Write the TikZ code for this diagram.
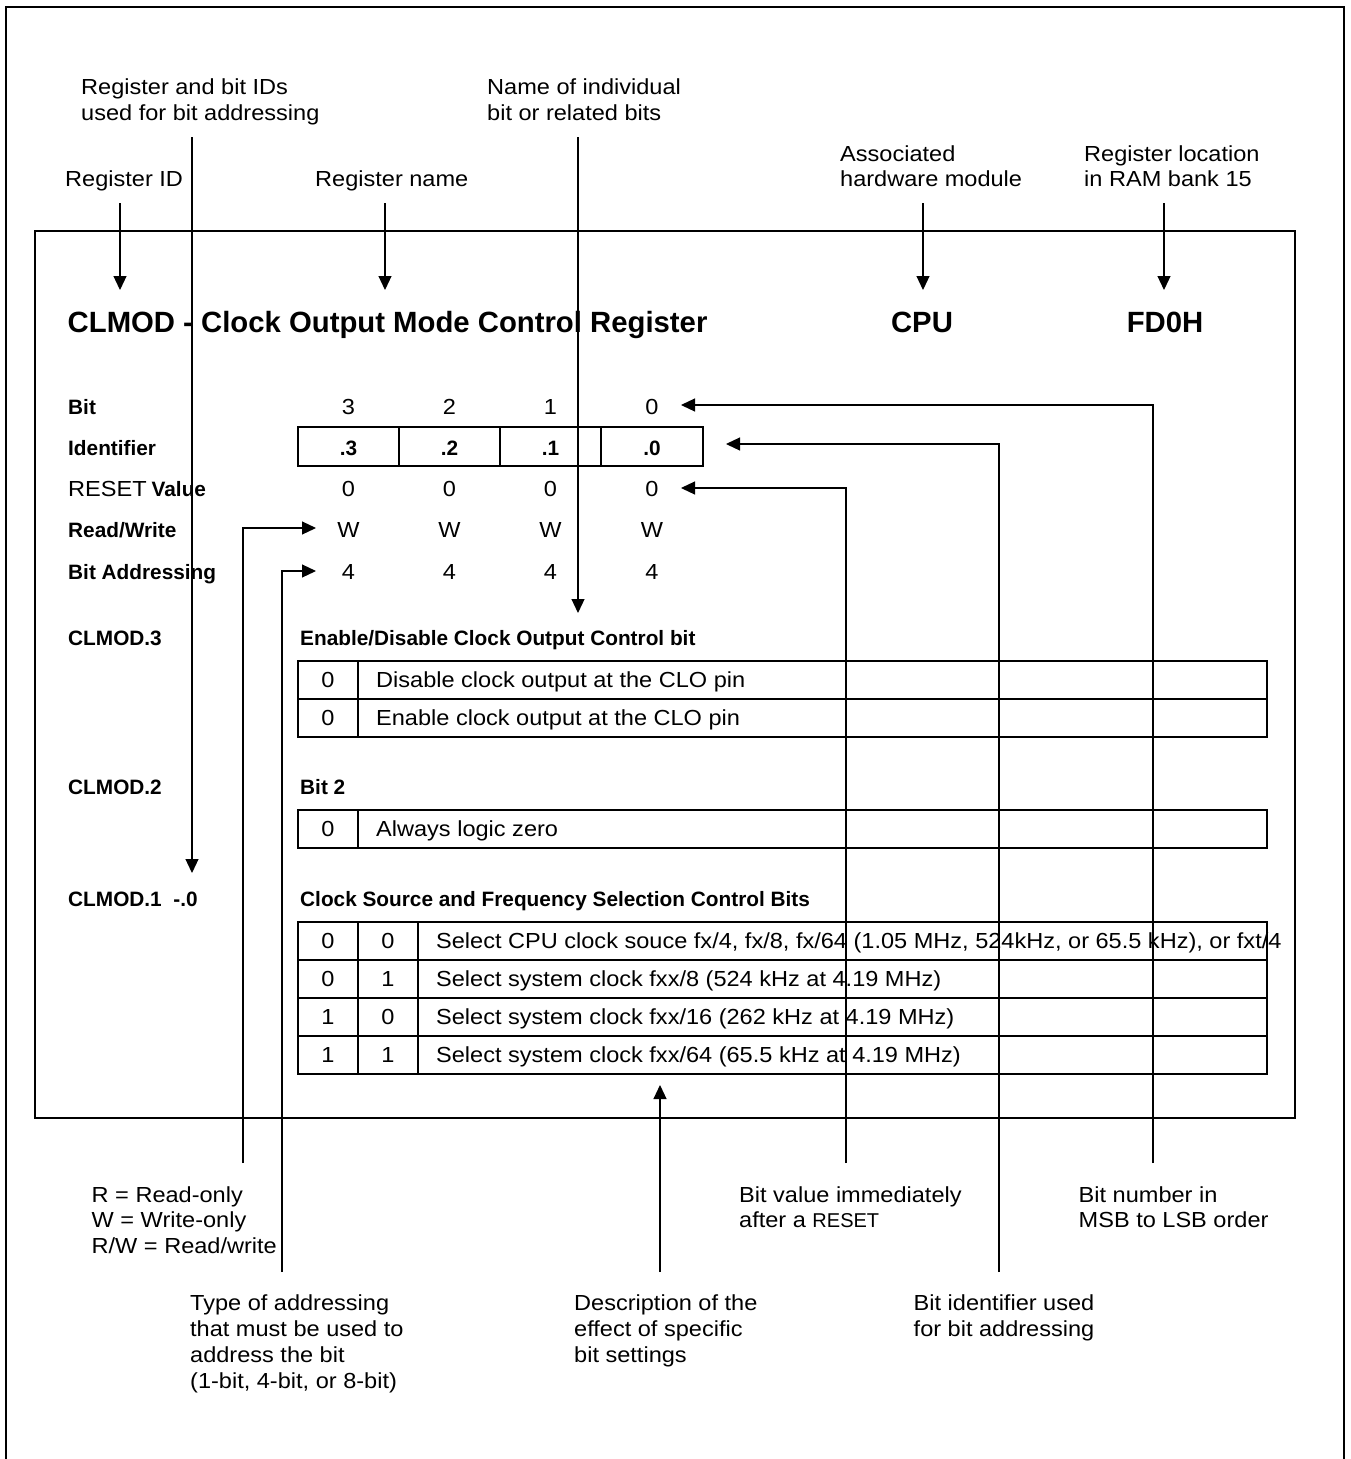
\documentclass[tikz,border=0pt]{standalone}
\usepackage{fontspec}
\setmainfont{Liberation Sans}
\newfontfamily\annotfont{Liberation Sans}[FakeStretch=1.08]
\usetikzlibrary{arrows.meta}
\begin{document}
\begin{tikzpicture}[x=1pt,y=-1pt,
  txt/.style={anchor=base west, inner sep=0pt, font=\annotfont\fontsize{21.8}{26}\selectfont},
  ctxt/.style={anchor=base, inner sep=0pt, font=\annotfont\fontsize{21.8}{26}\selectfont},
  lbl/.style={anchor=base west, inner sep=0pt, font=\bfseries\fontsize{20.8}{25}\selectfont},
  clbl/.style={anchor=base, inner sep=0pt, font=\bfseries\fontsize{20.8}{25}\selectfont},
  ttl/.style={anchor=base west, inner sep=0pt, font=\bfseries\fontsize{29.3}{34}\selectfont},
  cttl/.style={anchor=base, inner sep=0pt, font=\bfseries\fontsize{29.3}{34}\selectfont},
  conn/.style={line width=1.2pt},
  arr/.style={conn, -{Triangle[length=14pt,width=13pt]}},
  tbl/.style={line width=1.4pt},
]
\useasboundingbox (0,0) rectangle (1350,1459);
% frames
\draw[line width=2.2pt] (6,1470) -- (6,7) -- (1344,7) -- (1344,1470);
\draw[line width=1.7pt] (35,231) rectangle (1295,1118);

% top annotations
\node[txt] (tRegBit1) at (81,94) {Register and bit IDs};
\node[txt] (tRegBit2) at (81,120) {used for bit addressing};
\node[txt] (tName1) at (487,94) {Name of individual};
\node[txt] (tName2) at (487,120) {bit or related bits};
\node[txt] (tRegID) at (65,186) {Register ID};
\node[txt] (tRegName) at (315,186) {Register name};
\node[txt] (tAssoc1) at (840,161) {Associated};
\node[txt] (tAssoc2) at (840,186) {hardware module};
\node[txt] (tLoc1) at (1084,161) {Register location};
\node[txt] (tLoc2) at (1084,186) {in RAM bank 15};

% title line
\node[ttl] (title) at (67.5,332) {CLMOD - Clock Output Mode Control Register};
\node[cttl] (cpu) at (922,332) {CPU};
\node[cttl] (fd0h) at (1165,332) {FD0H};

% row labels
\node[lbl] (lBit) at (68,414) {Bit};
\node[lbl] (lId) at (68,455) {Identifier};
\node[lbl] (lReset) at (68,496) {{\annotfont\mdseries\fontsize{21.8}{26}\selectfont RESET}\hspace{5pt}Value};
\node[lbl] (lRW) at (68,537) {Read/Write};
\node[lbl] (lBA) at (68,579) {Bit Addressing};
\node[lbl] (lC3) at (68,645) {CLMOD.3};
\node[lbl] (lC2) at (68,794) {CLMOD.2};
\node[lbl] (lC1) at (68,906) {CLMOD.1~ -.0};

% identifier box
\draw[tbl] (298,427) rectangle (703,466);
\draw[tbl] (399,427) -- (399,466);
\draw[tbl] (500,427) -- (500,466);
\draw[tbl] (601,427) -- (601,466);

% bit columns
\foreach \x/\b/\i in {348.5/3/3, 449.5/2/2, 550.5/1/1, 652/0/0}{
  \node[ctxt] (b\b) at (\x,414) {\b};
  \node[clbl] (id\b) at (\x,455) {.\i};
  \node[ctxt] (r\b) at (\x,496) {0};
  \node[ctxt] (w\b) at (\x,537) {W};
  \node[ctxt] (a\b) at (\x,579) {4};
}

% CLMOD.3 table
\node[lbl] (h3) at (300,645) {Enable/Disable Clock Output Control bit};
\draw[tbl] (298,661) rectangle (1267,737);
\draw[tbl] (298,699) -- (1267,699);
\draw[tbl] (358,661) -- (358,737);
\node[ctxt] (t1a) at (328,687.5) {0};
\node[txt] (t1b) at (376,687.5) {Disable clock output at the CLO pin};
\node[ctxt] (t2a) at (328,725.5) {0};
\node[txt] (t2b) at (376,725.5) {Enable clock output at the CLO pin};

% CLMOD.2 table
\node[lbl] (h2) at (300,794) {Bit 2};
\draw[tbl] (298,810) rectangle (1267,848);
\draw[tbl] (358,810) -- (358,848);
\node[ctxt] (t3a) at (328,836.5) {0};
\node[txt] (t3b) at (376,836.5) {Always logic zero};

% CLMOD.1-.0 table
\node[lbl] (h1) at (300,906) {Clock Source and Frequency Selection Control Bits};
\draw[tbl] (298,922) rectangle (1267,1074);
\foreach \y in {960,998,1036} \draw[tbl] (298,\y) -- (1267,\y);
\draw[tbl] (358,922) -- (358,1074);
\draw[tbl] (418,922) -- (418,1074);
\foreach \n/\y/\p/\q/\t in {
  1/948.5/0/0/{Select CPU clock souce fx/4, fx/8, fx/64 (1.05 MHz, 524kHz, or 65.5 kHz), or fxt/4},
  2/986.5/0/1/{Select system clock fxx/8 (524 kHz at 4.19 MHz)},
  3/1024.5/1/0/{Select system clock fxx/16 (262 kHz at 4.19 MHz)},
  4/1062.5/1/1/{Select system clock fxx/64 (65.5 kHz at 4.19 MHz)}}{
  \node[ctxt] (s\n a) at (328,\y) {\p};
  \node[ctxt] (s\n b) at (388,\y) {\q};
  \node[txt] (s\n c) at (436,\y) {\t};
}

% bottom annotations
\node[txt] (bRW1) at (91.5,1202) {R = Read-only};
\node[txt] (bRW2) at (91.5,1227.5) {W = Write-only};
\node[txt] (bRW3) at (91.5,1253) {R/W = Read/write};
\node[txt] (bRes1) at (739,1202) {Bit value immediately};
\node[txt] (bRes2) at (739,1227.5) {after a {\rmfamily\fontsize{20}{26}\selectfont RESET}};
\node[txt] (bNum1) at (1078.5,1202) {Bit number in};
\node[txt] (bNum2) at (1078.5,1227.5) {MSB to LSB order};
\node[txt] (bAd1) at (190,1310) {Type of addressing};
\node[txt] (bAd2) at (190,1336) {that must be used to};
\node[txt] (bAd3) at (190,1362) {address the bit};
\node[txt] (bAd4) at (190,1388) {(1-bit, 4-bit, or 8-bit)};
\node[txt] (bDe1) at (574,1310) {Description of the};
\node[txt] (bDe2) at (574,1336) {effect of specific};
\node[txt] (bDe3) at (574,1362) {bit settings};
\node[txt] (bId1) at (913.5,1310) {Bit identifier used};
\node[txt] (bId2) at (913.5,1336) {for bit addressing};

% connector coordinates
\coordinate (pRegIDa) at (120,203);   \coordinate (pRegIDb) at (120,290);
\coordinate (pRegNa) at (385,203);    \coordinate (pRegNb) at (385,290);
\coordinate (pCPUa) at (923,203);     \coordinate (pCPUb) at (923,290);
\coordinate (pLoca) at (1164,203);    \coordinate (pLocb) at (1164,290);
\coordinate (pBitIDa) at (192,137);   \coordinate (pBitIDb) at (192,873);
\coordinate (pNamea) at (578,137);    \coordinate (pNameb) at (578,613);
\coordinate (pNuma) at (1153,1163);   \coordinate (pNumb) at (1153,405);  \coordinate (pNumc) at (681,405);
\coordinate (pIda) at (999,1272);     \coordinate (pIdb) at (999,444);    \coordinate (pIdc) at (726,444);
\coordinate (pResa) at (846,1163);    \coordinate (pResb) at (846,488);   \coordinate (pResc) at (681,488);
\coordinate (pRWa) at (243,1163);     \coordinate (pRWb) at (243,528);    \coordinate (pRWc) at (316,528);
\coordinate (pBAa) at (282,1272);     \coordinate (pBAb) at (282,571);    \coordinate (pBAc) at (316,571);
\coordinate (pDesa) at (660,1272);    \coordinate (pDesb) at (660,1085);

% connectors
\draw[arr] (pRegIDa) -- (pRegIDb);
\draw[arr] (pRegNa) -- (pRegNb);
\draw[arr] (pCPUa) -- (pCPUb);
\draw[arr] (pLoca) -- (pLocb);
\draw[arr] (pBitIDa) -- (pBitIDb);
\draw[arr] (pNamea) -- (pNameb);
\draw[arr] (pNuma) -- (pNumb) -- (pNumc);
\draw[arr] (pIda) -- (pIdb) -- (pIdc);
\draw[arr] (pResa) -- (pResb) -- (pResc);
\draw[arr] (pRWa) -- (pRWb) -- (pRWc);
\draw[arr] (pBAa) -- (pBAb) -- (pBAc);
\draw[arr] (pDesa) -- (pDesb);
\end{tikzpicture}
\end{document}
